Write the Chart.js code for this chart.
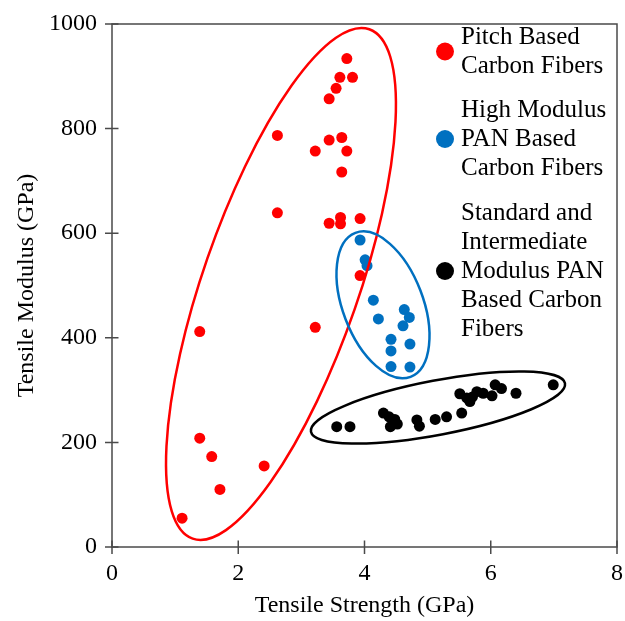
<!DOCTYPE html>
<html>
<head>
<meta charset="utf-8">
<script src="https://cdn.jsdelivr.net/npm/chart.js@4.4.0/dist/chart.umd.min.js"></script>
<style>
  html, body { margin: 0; padding: 0; background: #ffffff; }
  #wrap { width: 625px; height: 621px; position: relative; }
</style>
</head>
<body>
<div id="wrap"><canvas id="chart"></canvas></div>
<script>
// Tensile strength (GPa) and tensile modulus (GPa) of carbon fibre grades
const pitchStrength = [3.72, 3.61, 3.81, 3.55, 3.44, 2.62, 3.44, 3.64, 3.22, 3.72, 3.64, 2.62, 3.44, 3.62, 3.62, 3.93, 3.93, 3.22, 1.39, 1.39, 1.58, 2.41, 1.71, 1.11];
const pitchModulus  = [934, 898, 898, 877, 857, 787, 778, 783, 757, 757, 717, 639, 619, 630, 618, 628, 519, 420, 412, 208, 173, 155, 110, 55];

const hmPanStrength = [3.93, 4.01, 4.04, 4.14, 4.22, 4.63, 4.71, 4.61, 4.42, 4.42, 4.72, 4.42, 4.72];
const hmPanModulus  = [587, 549, 538, 472, 436, 454, 439, 423, 397, 375, 388, 345, 344];

const stdPanStrength = [3.56, 3.77, 4.30, 4.39, 4.48, 4.52, 4.41, 4.83, 4.87, 5.12, 5.30, 5.54, 5.51, 5.62, 5.67, 5.71, 5.78, 5.88, 6.02, 6.07, 6.17, 6.40, 6.99];
const stdPanModulus  = [230, 230, 256, 249, 244, 235, 230, 243, 231, 244, 249, 256, 293, 285, 278, 287, 297, 294, 289, 310, 303, 294, 310];

const xTicks = [0, 2, 4, 6, 8];
const yTicks = [0, 200, 400, 600, 800, 1000];

const seriesLabels = [
  ['Pitch Based', 'Carbon Fibers'],
  ['High Modulus', 'PAN Based', 'Carbon Fibers'],
  ['Standard and', 'Intermediate', 'Modulus PAN', 'Based Carbon', 'Fibers']
];

const RED = '#FF0000', BLUE = '#0070C0', BLACK = '#000000';
const SERIF = '"Liberation Serif", "Times New Roman", serif';

function pairs(xs, ys) { return xs.map((x, i) => ({ x: x, y: ys[i] })); }

// Hand-drawn group outlines: centre and major-axis tip in data units, minor/major ratio
const groupOutlines = [
  { centre: [2.677, 503], tip: [4.076, 990], ratio: 0.289, color: RED },
  { centre: [4.293, 463], tip: [3.856, 600.6], ratio: 0.52, color: BLUE },
  { centre: [5.164, 266.7], tip: [7.176, 313], ratio: 0.21, color: BLACK }
];

const framePlugin = {
  id: 'frameAndTicks',
  beforeDatasetsDraw(chart) {
    const { ctx, chartArea: a, scales } = chart;
    ctx.save();
    ctx.strokeStyle = '#4a4a4a';
    ctx.lineWidth = 1.5;
    ctx.strokeRect(a.left, a.top, a.right - a.left, a.bottom - a.top);
    ctx.beginPath();
    xTicks.forEach(v => {
      const px = scales.x.getPixelForValue(v);
      ctx.moveTo(px, a.bottom - 6.5); ctx.lineTo(px, a.bottom + 7);
    });
    yTicks.forEach(v => {
      const py = scales.y.getPixelForValue(v);
      ctx.moveTo(a.left - 7, py); ctx.lineTo(a.left + 6.5, py);
    });
    ctx.stroke();
    ctx.restore();
  },
  afterDatasetsDraw(chart) {
    const { ctx, scales } = chart;
    ctx.save();
    ctx.lineWidth = 2.5;
    groupOutlines.forEach(g => {
      const cx = scales.x.getPixelForValue(g.centre[0]);
      const cy = scales.y.getPixelForValue(g.centre[1]);
      const tx = scales.x.getPixelForValue(g.tip[0]);
      const ty = scales.y.getPixelForValue(g.tip[1]);
      const ra = Math.hypot(tx - cx, ty - cy);
      const ang = Math.atan2(ty - cy, tx - cx);
      ctx.beginPath();
      ctx.strokeStyle = g.color;
      ctx.ellipse(cx, cy, ra, ra * g.ratio, ang, 0, Math.PI * 2);
      ctx.stroke();
    });
    ctx.restore();
  },
  afterDraw(chart) {
    // Series key at the upper right of the plot
    const { ctx } = chart;
    const colors = [RED, BLUE, BLACK];
    const groupTop = [37, 110, 213];
    const markerLine = [0.5, 1, 2];
    const lineH = 29;
    ctx.save();
    ctx.font = '25px ' + SERIF;
    ctx.textBaseline = 'middle';
    ctx.textAlign = 'left';
    seriesLabels.forEach((lines, i) => {
      const my = groupTop[i] + markerLine[i] * lineH;
      ctx.beginPath();
      ctx.fillStyle = colors[i];
      ctx.arc(445, my, 9, 0, Math.PI * 2);
      ctx.fill();
      ctx.fillStyle = '#000000';
      lines.forEach((t, j) => ctx.fillText(t, 461, groupTop[i] + j * lineH));
    });
    ctx.restore();
  }
};

const tickFont = { family: SERIF, size: 24 };
const titleFont = { family: SERIF, size: 24 };
const plainNumber = v => String(v);

new Chart(document.getElementById('chart'), {
  type: 'scatter',
  data: {
    datasets: [
      { label: seriesLabels[0].join(' '), data: pairs(pitchStrength, pitchModulus),
        backgroundColor: RED, borderColor: RED, pointRadius: 5.5, borderWidth: 0 },
      { label: seriesLabels[1].join(' '), data: pairs(hmPanStrength, hmPanModulus),
        backgroundColor: BLUE, borderColor: BLUE, pointRadius: 5.5, borderWidth: 0 },
      { label: seriesLabels[2].join(' '), data: pairs(stdPanStrength, stdPanModulus),
        backgroundColor: BLACK, borderColor: BLACK, pointRadius: 5.5, borderWidth: 0 }
    ]
  },
  options: {
    responsive: true,
    maintainAspectRatio: false,
    animation: false,
    devicePixelRatio: 1,
    layout: { padding: { top: 24, right: 8, left: 0, bottom: 0 } },
    plugins: { legend: { display: false }, tooltip: { enabled: false } },
    scales: {
      x: {
        type: 'linear', min: 0, max: 8,
        afterBuildTicks: s => { s.ticks = xTicks.map(v => ({ value: v })); },
        afterFit: s => { s.height = 74; s.paddingLeft = 0; s.paddingRight = 0; },
        ticks: { font: tickFont, color: '#000000', padding: 12, callback: plainNumber },
        grid: { display: false, drawTicks: false },
        border: { display: false },
        title: { display: true, text: 'Tensile Strength (GPa)', font: titleFont, color: '#000000',
                 padding: { top: 0, bottom: 1 } }
      },
      y: {
        type: 'linear', min: 0, max: 1000,
        afterBuildTicks: s => { s.ticks = yTicks.map(v => ({ value: v })); },
        afterFit: s => { s.width = 112; s.paddingTop = 0; s.paddingBottom = 0; },
        ticks: { font: tickFont, color: '#000000', padding: 15, callback: plainNumber },
        grid: { display: false, drawTicks: false },
        border: { display: false },
        title: { display: true, text: 'Tensile Modulus (GPa)', font: titleFont, color: '#000000',
                 padding: { top: 12, bottom: 0 } }
      }
    }
  },
  plugins: [framePlugin]
});
</script>
</body>
</html>
